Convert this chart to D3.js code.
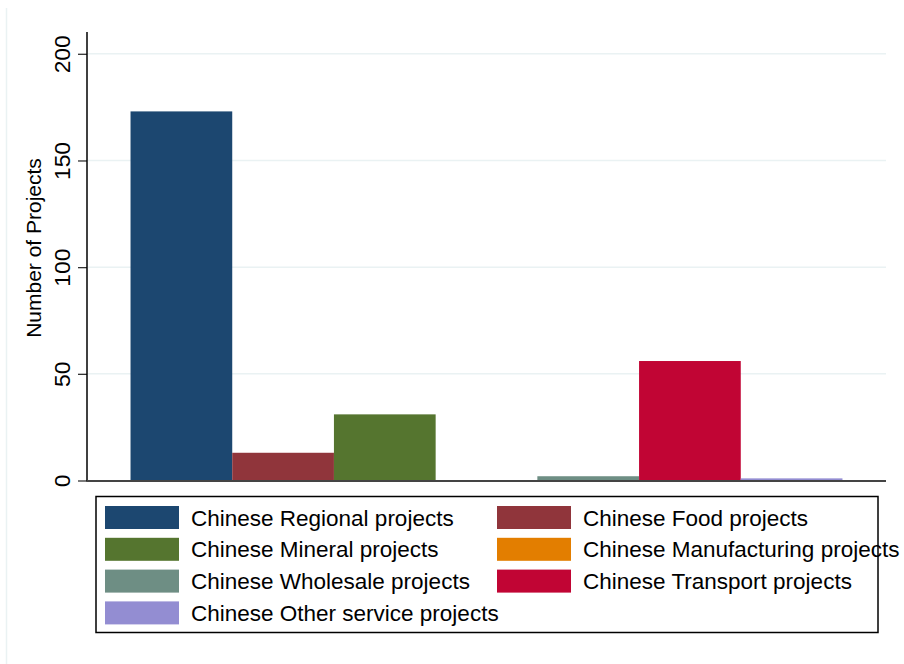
<!DOCTYPE html>
<html>
<head>
<meta charset="utf-8">
<script src="https://cdn.jsdelivr.net/npm/d3@7"></script>
<style>
html,body{margin:0;padding:0;background:#fff;}
svg{display:block;font-family:"Liberation Sans",Arial,sans-serif;}
</style>
</head>
<body>
<svg id="chart" width="904" height="664"></svg>
<script>
const categories = ["Chinese Regional projects","Chinese Food projects","Chinese Mineral projects","Chinese Manufacturing projects","Chinese Wholesale projects","Chinese Transport projects","Chinese Other service projects"];
const values = [173, 13, 31, 0, 2, 56, 1];
const colors = ["#1c4770","#90353b","#55752f","#e37e00","#6e8e84","#c10534","#938dd2"];
const yTicks = [0, 50, 100, 150, 200];
const yTitle = "Number of Projects";

(function(){
const svg = d3.select("#chart");
const pLeft = 87, pRight = 886, pTop = 32, pBottom = 480.5;

// faint outer region edge
svg.append("line").attr("x1",6.5).attr("x2",6.5).attr("y1",8).attr("y2",664)
  .attr("stroke","#eaf2f3").attr("stroke-width",1.5);

const y = d3.scaleLinear().domain([0,200]).range([pBottom, 53.8]);
const x = d3.scaleBand().domain(categories).range([pLeft, pRight]).paddingInner(0).paddingOuter(0.428);

// gridlines
svg.append("g").selectAll("line").data(yTicks.filter(d=>d>0)).join("line")
  .attr("x1",pLeft+1).attr("x2",pRight).attr("y1",d=>y(d)).attr("y2",d=>y(d))
  .attr("stroke","#eaf2f3").attr("stroke-width",1.5);

// bars
svg.append("g").selectAll("rect").data(values).join("rect")
  .attr("x",(d,i)=>x(categories[i]))
  .attr("width",x.bandwidth())
  .attr("y",d=>y(d))
  .attr("height",d=>pBottom-y(d))
  .attr("fill",(d,i)=>colors[i]);

// y axis
const yAxis = d3.axisLeft(y).tickValues(yTicks).tickSize(9).tickPadding(8).tickFormat(d3.format("d"));
const gy = svg.append("g").attr("transform",`translate(${pLeft},0)`).call(yAxis);
gy.select(".domain").remove();
gy.selectAll(".tick line").attr("stroke","#333").attr("stroke-width",1.3);
gy.selectAll(".tick text")
  .attr("font-size",22.8).attr("fill","#000")
  .attr("text-anchor","middle")
  .attr("transform","translate(-17,0) rotate(-90)")
  .attr("x",0).attr("y",0).attr("dy","0");
svg.append("line").attr("x1",pLeft).attr("x2",pLeft).attr("y1",pTop).attr("y2",pBottom+1)
  .attr("stroke","#000").attr("stroke-width",1.5);

// x axis line
svg.append("line").attr("x1",pLeft).attr("x2",pRight).attr("y1",pBottom+0.5).attr("y2",pBottom+0.5)
  .attr("stroke","#444").attr("stroke-width",2);

// y title
svg.append("text").attr("transform",`translate(40.5,248) rotate(-90)`)
  .attr("text-anchor","middle").attr("font-size",21).attr("fill","#000").text(yTitle);

// legend
const lg = svg.append("g");
lg.append("rect").attr("x",96).attr("y",496.5).attr("width",782).attr("height",136)
  .attr("fill","#fff").attr("stroke","#000").attr("stroke-width",1.5);
const colX = [105, 497], rowY0 = 506, rowStep = 31.8;
categories.forEach((c,i)=>{
  const col = i%2, row = Math.floor(i/2);
  const gx = colX[col], gyy = rowY0 + row*rowStep;
  lg.append("rect").attr("x",gx).attr("y",gyy).attr("width",74).attr("height",23).attr("fill",colors[i]);
  lg.append("text").attr("x",gx+86).attr("y",gyy+19.5).attr("font-size",22.5).attr("fill","#000").text(c);
});
})();
</script>
</body>
</html>
